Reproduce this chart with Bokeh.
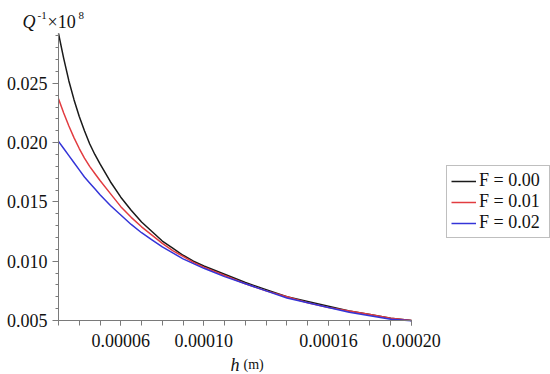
from bokeh.plotting import figure
from bokeh.models import FixedTicker, PrintfTickFormatter, Label, Legend, LegendItem, Range1d
from bokeh.embed import file_html
from bokeh.resources import INLINE

# data
h = [3.0e-5, 3.25e-5, 3.5e-5, 3.75e-5, 4.0e-5, 4.25e-5, 4.5e-5, 4.75e-5, 5.0e-5, 5.5e-5,
     6.0e-5, 6.5e-5, 7.0e-5, 7.5e-5, 8.0e-5, 8.5e-5, 9.0e-5, 9.5e-5, 1.0e-4, 1.1e-4,
     1.2e-4, 1.3e-4, 1.4e-4, 1.5e-4, 1.6e-4, 1.7e-4, 1.8e-4, 1.9e-4, 2.0e-4]
q_f000 = [0.0292, 0.0271, 0.0252, 0.0236, 0.0222, 0.0210, 0.0199, 0.0190, 0.0182, 0.0167,
          0.0154, 0.0143, 0.0133, 0.0125, 0.0117, 0.0111, 0.0105, 0.0100, 0.0096, 0.0089,
          0.0082, 0.0076, 0.0070, 0.0066, 0.0062, 0.0058, 0.0055, 0.0052, 0.0050]
q_f001 = [0.0237, 0.0225, 0.0214, 0.0204, 0.0195, 0.0187, 0.0180, 0.0174, 0.0168, 0.0157,
          0.0146, 0.0137, 0.0129, 0.0122, 0.0115, 0.0109, 0.0104, 0.0099, 0.0095, 0.0088,
          0.0081, 0.0075, 0.0070, 0.0065, 0.0061, 0.0058, 0.0055, 0.0052, 0.0050]
q_f002 = [0.0201, 0.0195, 0.0189, 0.0183, 0.0177, 0.0171, 0.0166, 0.0161, 0.0156, 0.0147,
          0.0139, 0.0131, 0.0124, 0.0118, 0.0112, 0.0107, 0.0102, 0.0098, 0.0094, 0.0087,
          0.0081, 0.0075, 0.0069, 0.0065, 0.0061, 0.0057, 0.0054, 0.0051, 0.00498]
series_labels = ["F = 0.00", "F = 0.01", "F = 0.02"]
series_colors = ["#1a1a1a", "#e23c40", "#3434d8"]

x_lim = [3.0e-5, 2.0e-4]
y_lim = [0.005, 0.0292]
x_major = [6e-5, 1.0e-4, 1.6e-4, 2.0e-4]
x_minor = [3e-5, 4e-5, 5e-5, 6e-5, 7e-5, 8e-5, 9e-5, 1.0e-4, 1.1e-4, 1.2e-4, 1.3e-4,
           1.4e-4, 1.5e-4, 1.6e-4, 1.7e-4, 1.8e-4, 1.9e-4, 2.0e-4]
y_major = [0.005, 0.010, 0.015, 0.020, 0.025]
y_minor = [0.005, 0.006, 0.007, 0.008, 0.009, 0.010, 0.011, 0.012, 0.013, 0.014, 0.015,
           0.016, 0.017, 0.018, 0.019, 0.020, 0.021, 0.022, 0.023, 0.024, 0.025, 0.026,
           0.027, 0.028, 0.029]

# layout (pixels on the canvas)
W, H = 550, 374
AX_LEFT, AX_RIGHT = 58, 411     # x-pixels of x_lim
AX_BOTTOM, AX_TOP = 320, 33     # y-pixels (from top) of y_lim

FONT = "Liberation Serif"
AXC = "#7a7a7a"
TXT = "#111111"

# ranges so that the plotting box sits where the axes are drawn
kx = (AX_RIGHT - AX_LEFT) / (x_lim[1] - x_lim[0])
ky = (AX_BOTTOM - AX_TOP) / (y_lim[1] - y_lim[0])
x_range = Range1d(x_lim[0] - AX_LEFT / kx, x_lim[1] + (W - AX_RIGHT) / kx)
y_range = Range1d(y_lim[0] - (H - AX_BOTTOM) / ky, y_lim[1] + AX_TOP / ky)

p = figure(width=W, height=H, x_range=x_range, y_range=y_range,
           min_border_left=0, min_border_right=0, min_border_top=0, min_border_bottom=0,
           output_backend="svg", toolbar_location=None)
p.outline_line_color = None
p.xgrid.visible = False
p.ygrid.visible = False

renderers = []
for ys, c in zip([q_f000, q_f001, q_f002], series_colors):
    renderers.append(p.line(h, ys, line_color=c, line_width=1.5))

for ax in (p.xaxis[0], p.yaxis[0]):
    ax.axis_line_color = AXC
    ax.major_tick_line_color = AXC
    ax.minor_tick_line_color = AXC
    ax.major_tick_in = 0
    ax.minor_tick_in = 0
    ax.major_label_text_font = FONT
    ax.major_label_text_font_size = "18px"
    ax.major_label_text_color = TXT

p.xaxis.fixed_location = y_lim[0]
p.xaxis.bounds = (x_lim[0], x_lim[1])
p.xaxis.ticker = FixedTicker(ticks=x_major, minor_ticks=x_minor)
p.xaxis.formatter = PrintfTickFormatter(format="%.5f")
p.xaxis.major_tick_out = 5
p.xaxis.minor_tick_out = 5
p.xaxis.major_label_standoff = 8

p.yaxis.fixed_location = x_lim[0]
p.yaxis.bounds = (y_lim[0], y_lim[1])
p.yaxis.ticker = FixedTicker(ticks=y_major, minor_ticks=y_minor)
p.yaxis.formatter = PrintfTickFormatter(format="%.3f")
p.yaxis.major_tick_out = 6
p.yaxis.minor_tick_out = 3
p.yaxis.major_label_standoff = 5


def add_text(x, y_from_top, text, size, italic=False):
    p.add_layout(Label(x=x, y=H - y_from_top, x_units="screen", y_units="screen", text=text,
                       text_font=FONT, text_font_style="italic" if italic else "normal",
                       text_font_size=size, text_color=TXT,
                       text_align="left", text_baseline="alphabetic"))


# y-axis title: Q^-1 x 10^8
add_text(22, 21, "Q", "18px", italic=True)
add_text(37, 15, "-1", "11px")
add_text(47, 21, "×10", "18px")
add_text(78, 15, "8", "11px")
# x-axis title: h (m)
add_text(230, 364, "h", "18px", italic=True)
add_text(243, 364, "(m)", "14px")

legend = Legend(items=[LegendItem(label=l, renderers=[r]) for l, r in zip(series_labels, renderers)],
                location=(446, H - 238), padding=4, spacing=0, margin=0,
                glyph_width=25, glyph_height=20, label_height=20, label_width=66,
                label_standoff=3,
                label_text_font=FONT, label_text_font_size="18px", label_text_color=TXT,
                border_line_color="#808080", border_line_width=1,
                background_fill_color="white", background_fill_alpha=1.0)
p.add_layout(legend, "center")

open("out.html", "w").write(file_html(p, INLINE))
